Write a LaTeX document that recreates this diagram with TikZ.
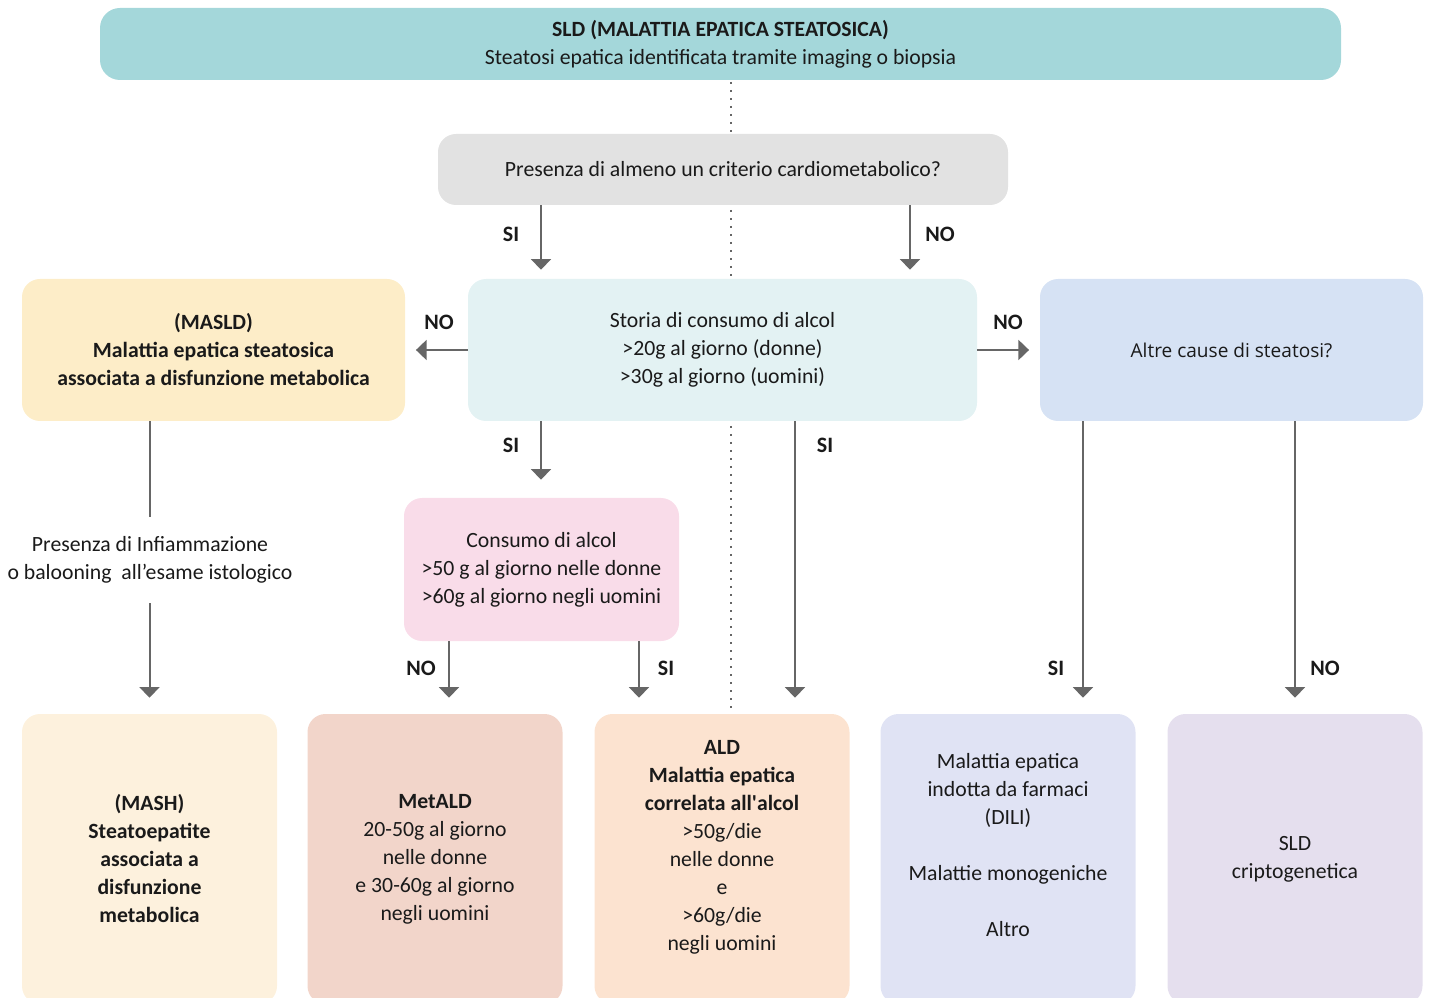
\documentclass[tikz,border=0pt]{standalone}
\usepackage{fontspec}
\setmainfont{Carlito}
\newfontfamily\altrefont{Open Sans}
\usetikzlibrary{positioning,arrows.meta}

\definecolor{ink}{HTML}{1A1A1A}
\definecolor{arrgray}{HTML}{666666}
\definecolor{sldcol}{HTML}{A4D7DA}
\definecolor{critcol}{HTML}{E2E2E2}
\definecolor{storiacol}{HTML}{E3F2F3}
\definecolor{masldcol}{HTML}{FDEDC8}
\definecolor{altrecol}{HTML}{D6E2F4}
\definecolor{consumocol}{HTML}{F9DCE9}
\definecolor{mashcol}{HTML}{FDF1DD}
\definecolor{metaldcol}{HTML}{F2D5CA}
\definecolor{aldcol}{HTML}{FCE3D0}
\definecolor{dilicol}{HTML}{E0E3F4}
\definecolor{criptocol}{HTML}{E5DFEE}

\tikzset{
	box/.style={rectangle, rounded corners=13.5pt, inner sep=0pt, align=center, text=ink, font=\fontsize{16.3}{21}\selectfont},
	sidebox/.style={box, minimum width=287.25pt, minimum height=106.5pt},
	endbox/.style={box, minimum width=191.25pt, minimum height=217.5pt},
	lab/.style={text=ink, font=\fontsize{16.5}{21}\selectfont\bfseries},
	arr/.style={draw=arrgray, line width=1.5pt, -{Triangle[width=15pt,length=8pt]}},
	flowline/.style={draw=arrgray, line width=1.5pt},
	dots/.style={draw=arrgray, line width=1.3pt, dash pattern=on 1.3pt off 4.7pt},
}

\begin{document}
\begin{tikzpicture}[x=0.75pt, y=-0.75pt]
	\useasboundingbox (0,0) rectangle (1432,998);
	\clip (0,0) rectangle (1432,998);
	\coordinate (dotTop) at (731,82);
	\coordinate (dotBottom) at (731,710);
	\draw[dots] (dotTop) -- (dotBottom);
	\node[box, fill=sldcol, minimum width=930.75pt, minimum height=54pt, rounded corners=15pt] (SLD) at (720.5,44) {{\bfseries SLD (MALATTIA EPATICA STEATOSICA)}\\Steatosi epatica identificata tramite imaging o biopsia};
	\node[box, fill=critcol, minimum width=427.5pt, minimum height=53.25pt] (Criterio) at (723,169.5) {Presenza di almeno un criterio cardiometabolico?};
	\node[box, fill=storiacol, minimum width=381.75pt, minimum height=106.5pt] (Storia) at (722.5,350) {Storia di consumo di alcol\\>20g al giorno (donne)\\>30g al giorno (uomini)};
	\node[sidebox, fill=masldcol, font=\fontsize{16.3}{21}\selectfont\bfseries] (MASLD) at (213.5,350) {(MASLD)\\Malattia epatica steatosica\\associata a disfunzione metabolica};
	\node[sidebox, fill=altrecol, font=\altrefont\fontsize{14.3}{21}\selectfont] (Altre) at (1231.5,350) {Altre cause di steatosi?};
	\node[box, fill=consumocol, minimum width=206.25pt, minimum height=107.25pt] (Consumo) at (541.5,569.5) {Consumo di alcol\\>50 g al giorno nelle donne\\ >60g al giorno negli uomini};
	\node[box, minimum height=64.5pt] (Infiammazione) at (150,560) {Presenza di Infiammazione\\o balooning\ \ all’esame istologico};
	\node[endbox, fill=mashcol, font=\fontsize{16.3}{21}\selectfont\bfseries] (MASH) at (149.5,859) {(MASH)\\Steatoepatite\\associata a\\disfunzione\\metabolica};
	\node[endbox, fill=metaldcol] (MetALD) at (435,859) {{\bfseries MetALD}\\20-50g al giorno\\nelle donne\\e 30-60g al giorno\\negli uomini};
	\node[endbox, fill=aldcol] (ALD) at (722,859) {{\bfseries ALD}\\{\bfseries Malattia epatica}\\{\bfseries correlata all\textquotesingle alcol}\\>50g/die\\nelle donne\\e\\>60g/die\\negli uomini\\ \mbox{}};
	\node[endbox, fill=dilicol] (DILI) at (1008,859) {Malattia epatica\\indotta da farmaci\\(DILI)\\ \mbox{}\\Malattie monogeniche\\ \mbox{}\\Altro\\ \mbox{}};
	\node[endbox, fill=criptocol] (Criptogenetica) at (1295,859) {SLD\\criptogenetica};
	\coordinate (colSI) at (541,0);
	\coordinate (colNO) at (910,0);
	\coordinate (colALD) at (795,0);
	\coordinate (colMetNO) at (449,0);
	\coordinate (colMetSI) at (639,0);
	\coordinate (colDILI) at (1083,0);
	\coordinate (colCripto) at (1295,0);
	\draw[arr, shorten >=6.75pt] (Criterio.south -| colSI) -- (Storia.north -| colSI);
	\draw[arr, shorten >=6.75pt] (Criterio.south -| colNO) -- (Storia.north -| colNO);
	\draw[arr, shorten >=8pt] (Storia.west) -- (MASLD.east);
	\draw[arr, shorten >=8pt] (Storia.east) -- (Altre.west);
	\draw[arr, shorten >=13.5pt] (Storia.south -| colSI) -- (Consumo.north -| colSI);
	\draw[arr, shorten >=12pt] (Storia.south -| colALD) -- (ALD.north -| colALD);
	\draw[arr, shorten >=12pt] (Consumo.south -| colMetNO) -- (MetALD.north -| colMetNO);
	\draw[arr, shorten >=12pt] (Consumo.south -| colMetSI) -- (ALD.north -| colMetSI);
	\draw[arr, shorten >=12pt] (Altre.south -| colDILI) -- (DILI.north -| colDILI);
	\draw[arr, shorten >=12pt] (Altre.south -| colCripto) -- (Criptogenetica.north -| colCripto);
	\draw[flowline] (MASLD.south -| MASH.north) -- (Infiammazione.north -| MASH.north);
	\draw[arr, shorten >=12pt] (Infiammazione.south -| MASH.north) -- (MASH.north);
	\node[lab] (siCriterio) at (511,234) {SI};
	\node[lab] (noCriterio) at (940,234) {NO};
	\node[lab] (noMASLD) at (439,322) {NO};
	\node[lab] (noAltre) at (1008,322) {NO};
	\node[lab] (siConsumo) at (511,445) {SI};
	\node[lab] (siALD) at (825,445) {SI};
	\node[lab] (noMetALD) at (421,668) {NO};
	\node[lab] (siMetALD) at (666,668) {SI};
	\node[lab] (siDILI) at (1056,668) {SI};
	\node[lab] (noCripto) at (1325,668) {NO};
\end{tikzpicture}
\end{document}
